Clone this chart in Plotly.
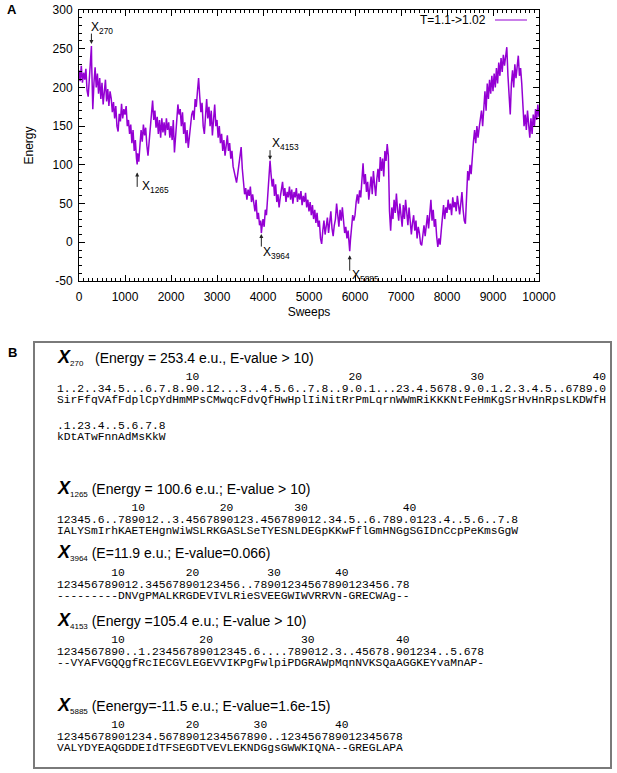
import plotly.graph_objects as go

# ---------------------------------------------------------------------------
# Panel A data: energy along the annealing run, one reading every 25 sweeps
# ---------------------------------------------------------------------------
SAMPLE_STEP = 25
energy = [
    # 0 - 975
    222, 208, 228, 206, 219, 210, 224, 196, 188, 214,
    236, 232, 172, 206, 226, 200, 218, 192, 212, 185,
    206, 178, 200, 210, 182, 198, 176, 195, 186, 168,
    181, 160, 176, 150, 143, 166, 156, 179, 160, 172,
    # 1000 - 1975
    165, 176, 150, 158, 140, 152, 128, 145, 118, 132,
    108, 115, 104, 125, 145, 130, 152, 138, 148, 125,
    112, 130, 150, 165, 183, 158, 170, 148, 162, 140,
    158, 135, 160, 142, 155, 138, 160, 145, 155, 135,
    # 2000 - 2975
    150, 132, 158, 116, 140, 162, 178, 165, 172, 150,
    168, 140, 155, 128, 145, 122, 140, 152, 165, 170,
    158, 185, 175, 195, 212, 188, 168, 180, 150, 140,
    165, 185, 160, 175, 150, 170, 138, 158, 178, 150,
    # 3000 - 3975
    158, 135, 150, 128, 140, 118, 132, 112, 125, 138,
    118, 128, 108, 118, 98, 90, 82, 77, 88, 98,
    112, 123, 95, 75, 62, 70, 55, 68, 60, 72,
    52, 62, 48, 40, 55, 30, 38, 22, 28, 18,
    # 4000 - 4975
    30, 20, 42, 35, 55, 70, 95, 88, 72, 82,
    60, 75, 52, 62, 45, 58, 68, 78, 60, 70,
    52, 65, 58, 72, 55, 68, 50, 65, 58, 70,
    52, 63, 55, 66, 48, 60, 52, 64, 45, 55,
    # 5000 - 5975
    40, 52, 35, 48, 30, 42, 25, 38, 20, 28,
    5, -2, 15, 28, 10, 22, 32, 12, 25, 40,
    18, 8, 22, 30, 50, 35, 20, 42, 28, 45,
    25, 12, 20, 5, 15, -5, 2, 20, 35, 28,
    # 6000 - 6975
    35, 52, 62, 50, 67, 58, 80, 102, 75, 88,
    65, 78, 55, 70, 85, 62, 92, 75, 60, 82,
    95, 78, 110, 92, 108, 85, 118, 105, 127, 112,
    40, 15, 45, 30, 55, 38, 63, 42, 28, 50,
    # 7000 - 7975
    35, 20, 48, 30, 55, 38, 22, 45, 30, 10,
    25, 35, 15, 28, 5, 20, 12, -2, -4, 15,
    22, 8, 25, 35, 18, 40, 55, 28, 42, 20,
    30, 8, -6, 5, -3, 15, 35, 48, 30, 45,
    # 8000 - 8975
    38, 55, 42, 50, 35, 58, 45, 52, 40, 60,
    48, 36, 50, 65, 42, 28, 24, 60, 92, 80,
    100, 88, 115, 130, 145, 128, 150, 135, 148, 162,
    170, 150, 178, 195, 170, 205, 185, 210, 192, 215,
    # 9000 - 10000
    195, 218, 200, 225, 205, 232, 215, 238, 220, 242,
    228, 238, 252, 215, 195, 165, 205, 222, 200, 230,
    212, 225, 241, 215, 225, 205, 175, 150, 165, 145,
    170, 152, 135, 160, 140, 165, 150, 172, 158, 178,
    162,
]
sweeps = list(range(0, SAMPLE_STEP * len(energy), SAMPLE_STEP))

# Snapshots discussed in panel B
marked_sweeps = [270, 1265, 3964, 4153, 5885]
marked_energy = [253.4, 100.6, 11.9, 105.4, -11.5]

series_name = "T=1.1->1.02"
x_ticks = [0, 1000, 2000, 3000, 4000, 5000, 6000, 7000, 8000, 9000, 10000]
y_ticks = [-50, 0, 50, 100, 150, 200, 250, 300]

# ---------------------------------------------------------------------------
# Panel B data: alignments of the snapshots
# ---------------------------------------------------------------------------
blocks = [
    dict(tag="270", gap=3, info="(Energy = 253.4 e.u., E-value > 10)",
         rows=[("1..2..34.5...6.7.8.90.12...3..4.5.6..7.8..9.0.1...23.4.5678.9.0.1.2.3.4.5..6789.0",
                "SirFfqVAfFdplCpYdHmMPsCMwqcFdvQfHwHplIiNitRrPmLqrnWWmRiKKKNtFeHmKgSrHvHnRpsLKDWfH"),
               (".1.23.4..5.6.7.8",
                "kDtATwFnnAdMsKkW")]),
    dict(tag="1265", gap=1, info="(Energy = 100.6 e.u.; E-value > 10)",
         rows=[("12345.6..789012..3.4567890123.456789012.34.5..6.789.0123.4..5.6..7.8",
                "IALYSmIrhKAETEHgnWiWSLRKGASLSeTYESNLDEGpKKwFflGmHNGgSGIDnCcpPeKmsGgW")]),
    dict(tag="3964", gap=1, info="(E=11.9 e.u.; E-value=0.066)",
         rows=[("123456789012.34567890123456..78901234567890123456.78",
                "---------DNVgPMALKRGDEVIVLRieSVEEGWIWVRRVN-GRECWAg--")]),
    dict(tag="4153", gap=1, info="(Energy =105.4 e.u.; E-value > 10)",
         rows=[("1234567890..1.23456789012345.6....789012.3..45678.901234..5.678",
                "--VYAFVGQQgfRcIECGVLEGEVVIKPgFwlpiPDGRAWpMqnNVKSQaAGGKEYvaMnAP-")]),
    dict(tag="5885", gap=1, info="(Eenergy=-11.5 e.u.; E-value=1.6e-15)",
         rows=[("12345678901234.5678901234567890..123456789012345678",
                "VALYDYEAQGDDEIdTFSEGDTVEVLEKNDGgsGWWKIQNA--GREGLAPA")]),
]

# ---------------------------------------------------------------------------
# Page geometry (pixels) and styling
# ---------------------------------------------------------------------------
W, H = 617, 773
PLOT_L, PLOT_R, PLOT_T, PLOT_B = 79, 539, 10, 281
SANS = "Liberation Sans, Arial, Helvetica, sans-serif"
MONO = "Liberation Mono, Courier New, monospace"
LINE_COLOR = "#9400D3"
NBSP = "\u00a0"


def paper(xp, yp):
    """Convert page pixels to paper coordinates of the plot area."""
    return ((xp - PLOT_L) / (PLOT_R - PLOT_L),
            (PLOT_B - yp) / (PLOT_B - PLOT_T))


def ruler(digits, start=0):
    """Decade labels right-aligned over every residue that is a multiple of 10."""
    cells = [" "] * len(digits)
    n = start
    for i, ch in enumerate(digits):
        if ch.isdigit():
            n += 1
            if n % 10 == 0:
                lab = str(n)
                for k, c in enumerate(lab):
                    j = i - len(lab) + 1 + k
                    if 0 <= j < len(cells):
                        cells[j] = c
    return "".join(cells).rstrip()


pts = sorted(zip(sweeps + marked_sweeps, energy + marked_energy))

fig = go.Figure()
fig.add_trace(go.Scatter(
    x=[p[0] for p in pts], y=[p[1] for p in pts],
    mode="lines", name=series_name, showlegend=False,
    line=dict(color=LINE_COLOR, width=1.5),
))

annotations = []
shapes = []

# snapshot arrows and labels: (arrow tail offset, standoff, label dx, label dy)
mark_style = {
    270: dict(ay=-14, standoff=2, dx=-2, dy=18),
    1265: dict(ay=24, standoff=8, dx=3, dy=-23),
    3964: dict(ay=15, standoff=1, dx=0, dy=-20),
    4153: dict(ay=-12, standoff=1, dx=0, dy=17),
    5885: dict(ay=21, standoff=4, dx=0, dy=-25),
}
for sx, ey in zip(marked_sweeps, marked_energy):
    st = mark_style[sx]
    annotations.append(dict(
        x=sx, y=ey, xref="x", yref="y", text="", showarrow=True,
        ax=0, ay=st["ay"], axref="pixel", ayref="pixel",
        arrowhead=2, arrowsize=0.8, arrowwidth=1, arrowcolor="#222",
        standoff=st["standoff"],
    ))
    annotations.append(dict(
        x=sx, y=ey, xref="x", yref="y", showarrow=False,
        text=f"X<sub>{sx}</sub>", xanchor="left", yanchor="middle",
        xshift=st["dx"], yshift=st["dy"],
        font=dict(family=SANS, size=12, color="black"),
    ))

# legend entry: text followed by a line sample
lx, ly = paper(488, 20)
annotations.append(dict(x=lx, y=ly, xref="paper", yref="paper", text=series_name,
                        showarrow=False, xanchor="right", yanchor="middle",
                        font=dict(family=SANS, size=12, color="black")))
x0, _ = paper(495, 20)
x1, _ = paper(527, 20)
shapes.append(dict(type="line", xref="paper", yref="paper", x0=x0, x1=x1, y0=ly, y1=ly,
                   line=dict(color=LINE_COLOR, width=1)))

# panel letters
for letter, yp in (("A", 9), ("B", 352)):
    ax_, ay_ = paper(12, yp)
    annotations.append(dict(x=ax_, y=ay_, xref="paper", yref="paper", text=f"<b>{letter}</b>",
                            showarrow=False, xanchor="center", yanchor="middle",
                            font=dict(family=SANS, size=13, color="black")))

# panel B frame
bx0, by0 = paper(34, 342)
bx1, by1 = paper(611, 768)
shapes.append(dict(type="rect", xref="paper", yref="paper", x0=bx0, x1=bx1, y0=by0, y1=by1,
                   line=dict(color="#7a7a7a", width=2), fillcolor="rgba(0,0,0,0)"))

# panel B text
TEXT_X = 55
header_y = [357, 488, 553, 620, 705]
MONO_SIZE = 11.3
LINE_STEP = 11.5
for blk, hy in zip(blocks, header_y):
    hx, hyp = paper(TEXT_X, hy)
    head = (f'<b><i><span style="font-size:18px">X</span></i></b>'
            f'<sub><span style="font-size:8px">{blk["tag"]}</span></sub>'
            f'{NBSP * blk["gap"]}{blk["info"]}')
    annotations.append(dict(x=hx, y=hyp, xref="paper", yref="paper", text=head,
                            showarrow=False, xanchor="left", yanchor="middle",
                            font=dict(family=SANS, size=14, color="black")))
    y = hy + 20
    start = 0
    for r, (digits, seq) in enumerate(blk["rows"]):
        if r > 0:
            y += 14
        lines = [ruler(digits, start), digits, seq]
        for k, line in enumerate(lines):
            if line:
                px_, py_ = paper(TEXT_X, y + k * LINE_STEP)
                annotations.append(dict(x=px_, y=py_, xref="paper", yref="paper",
                                        text=line.replace(" ", NBSP),
                                        showarrow=False, xanchor="left", yanchor="middle",
                                        font=dict(family=MONO, size=MONO_SIZE, color="black")))
        start += sum(ch.isdigit() for ch in digits)
        y += 2 * LINE_STEP

axis_common = dict(
    showline=True, linecolor="black", linewidth=1, mirror="allticks",
    ticks="inside", ticklen=6, tickcolor="black", tickwidth=1,
    showgrid=False, zeroline=False,
    tickfont=dict(family=SANS, size=12, color="black"),
)
fig.update_layout(
    width=W, height=H,
    margin=dict(l=PLOT_L, r=W - PLOT_R, t=PLOT_T, b=H - PLOT_B, pad=0),
    paper_bgcolor="white", plot_bgcolor="white",
    xaxis=dict(range=[0, 10000], tickvals=x_ticks, ticktext=[str(v) for v in x_ticks],
               automargin=False, ticklabelstandoff=5,
               title=dict(text="Sweeps", standoff=4, font=dict(family=SANS, size=12, color="black")),
               minor=dict(dtick=100, ticks="inside", ticklen=3, tickcolor="black", showgrid=False),
               **axis_common),
    yaxis=dict(range=[-50, 300], tickvals=y_ticks, ticktext=[str(v) for v in y_ticks],
               automargin=False, ticklabelstandoff=3,
               title=dict(text="Energy", standoff=16, font=dict(family=SANS, size=12, color="black")),
               minor=dict(dtick=10, ticks="inside", ticklen=3, tickcolor="black", showgrid=False),
               **axis_common),
    annotations=annotations,
    shapes=shapes,
)

fig.write_html("out.html")
